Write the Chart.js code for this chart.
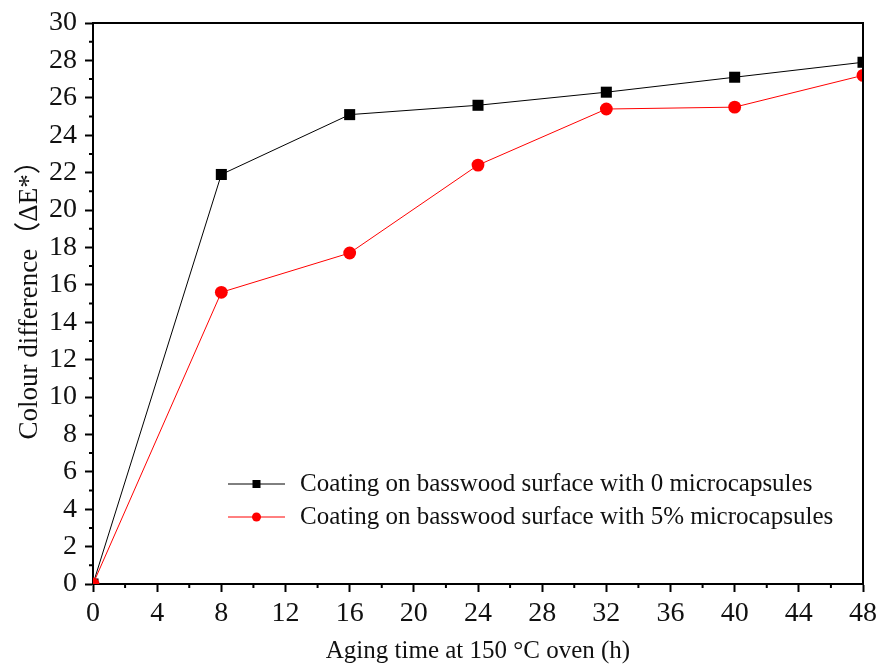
<!DOCTYPE html>
<html>
<head>
<meta charset="utf-8">
<script src="https://cdn.jsdelivr.net/npm/chart.js@4.4.1/dist/chart.umd.min.js"></script>
<style>
  html, body { margin: 0; padding: 0; background: #fff; }
  #wrap { width: 882px; height: 666px; }
</style>
</head>
<body>
<div id="wrap"><canvas id="grafico" width="882" height="666"></canvas></div>
<script>
// Datos
const horas = [0, 8, 16, 24, 32, 40, 48];
const sinMicro = [0, 21.9, 25.1, 25.6, 26.3, 27.1, 27.9]; // 0 microcapsulas
const conMicro = [0, 15.6, 17.7, 22.4, 25.4, 25.5, 27.2]; // 5% microcapsulas
const nombres = [
  'Coating on basswood surface with 0 microcapsules',
  'Coating on basswood surface with 5% microcapsules'
];
const ticksX = [0, 4, 8, 12, 16, 20, 24, 28, 32, 36, 40, 44, 48];
const ticksY = [0, 2, 4, 6, 8, 10, 12, 14, 16, 18, 20, 22, 24, 26, 28, 30];
const menoresX = [2, 6, 10, 14, 18, 22, 26, 30, 34, 38, 42, 46];
const menoresY = [1, 3, 5, 7, 9, 11, 13, 15, 17, 19, 21, 23, 25, 27, 29];

const fuente = "'Liberation Serif', 'Times New Roman', 'Noto Sans CJK SC', serif";

function puntos(valores) {
  return horas.map((h, i) => ({ x: h, y: valores[i] }));
}

// marco, ticks menores y leyenda dentro del area
const extras = {
  id: 'extras',
  afterDraw(chart) {
    const ctx = chart.ctx;
    const a = chart.chartArea;
    const sx = chart.scales.x;
    const sy = chart.scales.y;
    ctx.save();
    ctx.strokeStyle = '#000';
    ctx.lineWidth = 2;
    ctx.beginPath();
    ctx.moveTo(a.left, a.top);
    ctx.lineTo(a.right, a.top);
    ctx.lineTo(a.right, a.bottom);
    ctx.stroke();

    ctx.beginPath();
    menoresX.forEach(v => {
      const px = sx.getPixelForValue(v);
      ctx.moveTo(px, a.bottom);
      ctx.lineTo(px, a.bottom + 4);
    });
    menoresY.forEach(v => {
      const py = sy.getPixelForValue(v);
      ctx.moveTo(a.left, py);
      ctx.lineTo(a.left - 4, py);
    });
    ctx.stroke();

    // leyenda
    const filas = [a.bottom - 100, a.bottom - 67];
    chart.data.datasets.forEach((ds, i) => {
      const y = filas[i];
      ctx.strokeStyle = ds.borderColor;
      ctx.lineWidth = 1;
      ctx.beginPath();
      ctx.moveTo(a.left + 135, y);
      ctx.lineTo(a.left + 192, y);
      ctx.stroke();
      ctx.fillStyle = ds.backgroundColor;
      if (ds.pointStyle === 'rect') {
        ctx.fillRect(a.left + 163.5 - 4, y - 4, 8, 8);
      } else {
        ctx.beginPath();
        ctx.arc(a.left + 163.5, y, 4.5, 0, Math.PI * 2);
        ctx.fill();
      }
      ctx.fillStyle = '#111';
      ctx.font = '25px ' + fuente;
      ctx.textBaseline = 'middle';
      ctx.textAlign = 'left';
      ctx.fillText(ds.label, a.left + 207, y);
    });
    ctx.restore();
  }
};

new Chart(document.getElementById('grafico'), {
  type: 'line',
  data: {
    datasets: [
      {
        label: nombres[0],
        data: puntos(sinMicro),
        borderColor: '#000',
        backgroundColor: '#000',
        borderWidth: 1,
        pointStyle: 'rect',
        pointRadius: 7.8,
        pointBorderWidth: 0,
        order: 1
      },
      {
        label: nombres[1],
        data: puntos(conMicro),
        borderColor: '#ff0000',
        backgroundColor: '#ff0000',
        borderWidth: 1,
        pointStyle: 'circle',
        pointRadius: 6.4,
        pointBorderWidth: 0,
        order: 0
      }
    ]
  },
  options: {
    responsive: false,
    animation: false,
    devicePixelRatio: 1,
    layout: { padding: { top: 23, right: 17, left: 0, bottom: 0 } },
    plugins: {
      legend: { display: false },
      tooltip: { enabled: false }
    },
    scales: {
      x: {
        type: 'linear',
        min: 0,
        max: 48,
        afterBuildTicks: s => { s.ticks = ticksX.map(v => ({ value: v })); },
        afterFit: s => { s.height = 82; },
        grid: { drawOnChartArea: false, drawTicks: true, tickLength: 8, tickWidth: 2, tickColor: '#000' },
        border: { display: true, color: '#000', width: 2 },
        ticks: { color: '#111', padding: 5, maxRotation: 0, autoSkip: false, font: { family: fuente, size: 28 } },
        title: {
          display: true,
          text: 'Aging time at 150 °C oven (h)',
          color: '#111',
          font: { family: fuente, size: 25 },
          padding: { top: 2, bottom: 0 }
        }
      },
      y: {
        min: 0,
        max: 30,
        afterBuildTicks: s => { s.ticks = ticksY.map(v => ({ value: v })); },
        afterFit: s => { s.width = 93; },
        grid: { drawOnChartArea: false, drawTicks: true, tickLength: 8, tickWidth: 2, tickColor: '#000' },
        border: { display: true, color: '#000', width: 2 },
        ticks: { color: '#111', padding: 8, autoSkip: false, font: { family: fuente, size: 28, lineHeight: 1 } },
        title: {
          display: true,
          text: '   Colour difference（ΔE*）',
          color: '#111',
          font: { family: fuente, size: 27 },
          padding: { top: 14, bottom: 0 }
        }
      }
    }
  },
  plugins: [extras]
});
</script>
</body>
</html>
